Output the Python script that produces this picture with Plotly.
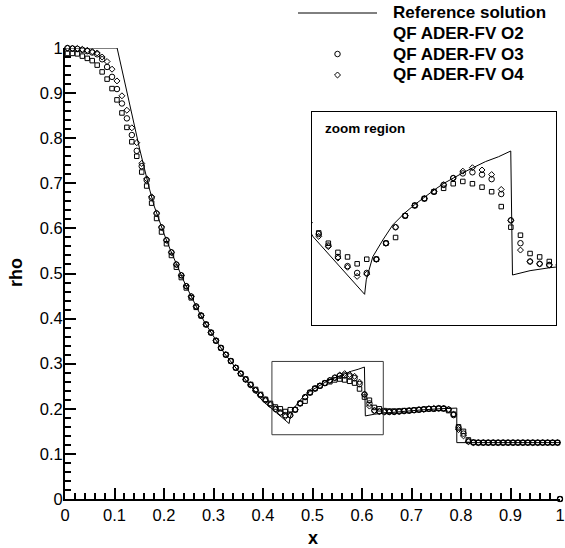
import plotly.graph_objects as go

# ---------------------------------------------------------------------------
# Reference (exact) solution of the density profile
# ---------------------------------------------------------------------------
x_ref = [0.0, 0.1053, 0.151, 0.16, 0.17, 0.18, 0.19, 0.20, 0.213, 0.223,
         0.233, 0.243, 0.253, 0.262, 0.272, 0.282, 0.292, 0.302, 0.312, 0.322,
         0.332, 0.342, 0.352, 0.362, 0.380, 0.3993, 0.4528, 0.4545, 0.4613, 0.4717,
         0.4820, 0.4941, 0.5044, 0.5147, 0.5251, 0.5354, 0.5457, 0.5561, 0.5664, 0.5785,
         0.5922, 0.6049, 0.6067, 0.625, 0.6456, 0.68, 0.72, 0.76, 0.7915, 0.7915,
         1.0]
rho_ref = [1.0, 1.0, 0.775, 0.733, 0.690, 0.650, 0.617, 0.588, 0.552, 0.525,
           0.501, 0.476, 0.454, 0.432, 0.412, 0.392, 0.374, 0.356, 0.339, 0.323,
           0.309, 0.294, 0.281, 0.268, 0.244, 0.2175, 0.1673, 0.180, 0.2002, 0.2148,
           0.2279, 0.2381, 0.2454, 0.2521, 0.2585, 0.2644, 0.2693, 0.2740, 0.2783, 0.2833,
           0.2876, 0.2926, 0.1842, 0.1880, 0.1906, 0.1945, 0.1975, 0.2003, 0.2016, 0.125,
           0.125]

# ---------------------------------------------------------------------------
# Cell-centre values of the three QF ADER-FV schemes (100 cells + boundary node)
# ---------------------------------------------------------------------------
x_cells = [0.005, 0.015, 0.025, 0.035, 0.045, 0.055, 0.065, 0.075, 0.085, 0.095,
           0.105, 0.115, 0.125, 0.135, 0.145, 0.155, 0.165, 0.175, 0.185, 0.195,
           0.205, 0.215, 0.225, 0.235, 0.245, 0.255, 0.265, 0.275, 0.285, 0.295,
           0.305, 0.315, 0.325, 0.335, 0.345, 0.355, 0.365, 0.375, 0.385, 0.395,
           0.405, 0.415, 0.425, 0.435, 0.445, 0.455, 0.465, 0.475, 0.485, 0.495,
           0.505, 0.515, 0.525, 0.535, 0.545, 0.555, 0.565, 0.575, 0.585, 0.595,
           0.605, 0.615, 0.625, 0.635, 0.645, 0.655, 0.665, 0.675, 0.685, 0.695,
           0.705, 0.715, 0.725, 0.735, 0.745, 0.755, 0.765, 0.775, 0.785, 0.795,
           0.805, 0.815, 0.825, 0.835, 0.845, 0.855, 0.865, 0.875, 0.885, 0.895,
           0.905, 0.915, 0.925, 0.935, 0.945, 0.955, 0.965, 0.975, 0.985, 0.995,
           1.0]

rho_o2 = [0.988, 0.988, 0.987, 0.982, 0.977, 0.972, 0.962, 0.947, 0.931, 0.910,
          0.885, 0.856, 0.824, 0.792, 0.760, 0.725, 0.694, 0.656, 0.622, 0.592,
          0.566, 0.540, 0.514, 0.491, 0.468, 0.446, 0.425, 0.406, 0.387, 0.369,
          0.351, 0.335, 0.320, 0.306, 0.291, 0.278, 0.266, 0.254, 0.243, 0.232,
          0.221, 0.212, 0.204, 0.200, 0.194, 0.198, 0.198, 0.212, 0.217, 0.236,
          0.245, 0.251, 0.257, 0.260, 0.264, 0.266, 0.264, 0.261, 0.257, 0.244,
          0.226, 0.219, 0.203, 0.200, 0.196, 0.195, 0.195, 0.195, 0.196, 0.196,
          0.197, 0.198, 0.199, 0.200, 0.200, 0.201, 0.200, 0.196, 0.188, 0.160,
          0.150, 0.131, 0.126, 0.125, 0.125, 0.125, 0.125, 0.125, 0.125, 0.125,
          0.125, 0.125, 0.125, 0.125, 0.125, 0.125, 0.125, 0.125, 0.125, 0.125,
          0.0]

rho_o3 = [1.000, 0.999, 0.998, 0.996, 0.993, 0.990, 0.986, 0.975, 0.958, 0.936,
          0.909, 0.877, 0.844, 0.807, 0.772, 0.738, 0.707, 0.668, 0.633, 0.602,
          0.574, 0.547, 0.520, 0.496, 0.472, 0.449, 0.427, 0.407, 0.387, 0.369,
          0.351, 0.335, 0.320, 0.306, 0.291, 0.278, 0.265, 0.253, 0.241, 0.230,
          0.220, 0.210, 0.200, 0.192, 0.186, 0.186, 0.198, 0.212, 0.226, 0.236,
          0.245, 0.251, 0.257, 0.263, 0.269, 0.273, 0.274, 0.272, 0.268, 0.255,
          0.232, 0.212, 0.196, 0.194, 0.193, 0.193, 0.193, 0.194, 0.195, 0.196,
          0.197, 0.198, 0.199, 0.200, 0.200, 0.201, 0.201, 0.198, 0.186, 0.158,
          0.145, 0.128, 0.125, 0.125, 0.125, 0.125, 0.125, 0.125, 0.125, 0.125,
          0.125, 0.125, 0.125, 0.125, 0.125, 0.125, 0.125, 0.125, 0.125, 0.125,
          0.0]

rho_o4 = [1.000, 0.999, 0.999, 0.997, 0.995, 0.992, 0.989, 0.980, 0.970, 0.953,
          0.927, 0.894, 0.862, 0.823, 0.790, 0.744, 0.710, 0.670, 0.634, 0.603,
          0.574, 0.547, 0.520, 0.496, 0.472, 0.449, 0.427, 0.407, 0.387, 0.369,
          0.351, 0.335, 0.320, 0.306, 0.291, 0.278, 0.265, 0.253, 0.241, 0.230,
          0.218, 0.209, 0.199, 0.191, 0.183, 0.185, 0.198, 0.212, 0.226, 0.236,
          0.245, 0.251, 0.257, 0.263, 0.269, 0.275, 0.278, 0.276, 0.272, 0.259,
          0.232, 0.206, 0.196, 0.194, 0.193, 0.193, 0.193, 0.194, 0.195, 0.196,
          0.197, 0.198, 0.199, 0.200, 0.201, 0.201, 0.201, 0.199, 0.188, 0.154,
          0.140, 0.127, 0.125, 0.125, 0.125, 0.125, 0.125, 0.125, 0.125, 0.125,
          0.125, 0.125, 0.125, 0.125, 0.125, 0.125, 0.125, 0.125, 0.125, 0.125,
          0.0]

series_names = ["Reference solution", "QF ADER-FV O2", "QF ADER-FV O3", "QF ADER-FV O4"]

# major tick positions and labels shared by both main axes
tick_vals = [0.0, 0.1, 0.2, 0.3, 0.4, 0.5, 0.6, 0.7, 0.8, 0.9, 1.0]
tick_text = ["0", "0.1", "0.2", "0.3", "0.4", "0.5", "0.6", "0.7", "0.8", "0.9", "1"]

# zoomed window (main axes box) and the inset's own ranges
zoom_box_x = [0.418, 0.643]
zoom_box_y = [0.1425, 0.305]
inset_x_range = [0.398, 0.652]
inset_y_range = [0.1405, 0.3267]

FONT = "Liberation Sans, Arial, Helvetica, sans-serif"
BLACK = "#000000"

marker_styles = {
    "o2": dict(symbol="square-open", size=4.5, color=BLACK, line=dict(width=1, color=BLACK)),
    "o3": dict(symbol="circle-open", size=5.5, color=BLACK, line=dict(width=1, color=BLACK)),
    "o4": dict(symbol="diamond-open", size=4.6, color=BLACK, line=dict(width=1, color=BLACK)),
}

fig = go.Figure()

for xa, ya, clip in (("x", "y", False), ("x2", "y2", True)):
    fig.add_trace(go.Scatter(x=x_ref, y=rho_ref, mode="lines", name=series_names[0],
                             line=dict(color=BLACK, width=1), xaxis=xa, yaxis=ya,
                             showlegend=False, cliponaxis=clip))
    for key, vals, nm in (("o2", rho_o2, series_names[1]),
                          ("o3", rho_o3, series_names[2]),
                          ("o4", rho_o4, series_names[3])):
        fig.add_trace(go.Scatter(x=x_cells, y=vals, mode="markers", name=nm,
                                 marker=marker_styles[key], xaxis=xa, yaxis=ya,
                                 showlegend=False, cliponaxis=clip))

# plot-area geometry in pixels (used to place legend / labels in paper units)
W, H = 565, 548
ML, MR, MT, MB = 65, 5, 48, 49
PW, PH = W - ML - MR, H - MT - MB


def px_to_paper(px, py):
    return (px - ML) / PW, (H - MB - py) / PH


# ---- legend drawn as glyphs + text -------------------------------------------
shapes = []
annotations = []
lx0, ly = px_to_paper(298, 13)
lx1, _ = px_to_paper(377, 13)
shapes.append(dict(type="line", xref="paper", yref="paper", x0=lx0, x1=lx1, y0=ly, y1=ly,
                   line=dict(color=BLACK, width=1)))
row_y = [13, 33.5, 54, 75]
text_x, _ = px_to_paper(391, 0)
for i, nm in enumerate(series_names):
    _, yy = px_to_paper(0, row_y[i])
    annotations.append(dict(text="<b>%s</b>" % nm, xref="paper", yref="paper", x=text_x, y=yy,
                            xanchor="left", yanchor="middle", showarrow=False,
                            font=dict(family=FONT, size=17, color=BLACK)))

mx, _ = px_to_paper(337.5, 0)
leg_y = [px_to_paper(0, r)[1] for r in row_y[1:]]
for key, yy in zip(("o2", "o3", "o4"), leg_y):
    fig.add_trace(go.Scatter(x=[mx], y=[yy], mode="markers", marker=marker_styles[key],
                             xaxis="x3", yaxis="y3", showlegend=False, cliponaxis=False))

# ---- zoom window outline in the main axes ------------------------------------
shapes.append(dict(type="rect", xref="x", yref="y", x0=zoom_box_x[0], x1=zoom_box_x[1],
                   y0=zoom_box_y[0], y1=zoom_box_y[1], line=dict(color="#3a3a3a", width=1)))

# ---- inset title ---------------------------------------------------------------
zx, zy = px_to_paper(323, 128)
annotations.append(dict(text="<b>zoom region</b>", xref="paper", yref="paper", x=zx, y=zy,
                        xanchor="left", yanchor="middle", showarrow=False,
                        font=dict(family=FONT, size=13.5, color=BLACK)))

# ---- axis titles ---------------------------------------------------------------
tx, ty = px_to_paper(313, 538)
annotations.append(dict(text="<b>x</b>", xref="paper", yref="paper", x=tx, y=ty,
                        xanchor="center", yanchor="middle", showarrow=False,
                        font=dict(family=FONT, size=18, color=BLACK)))
rx, ry = px_to_paper(16, 273)
annotations.append(dict(text="<b>rho</b>", xref="paper", yref="paper", x=rx, y=ry,
                        xanchor="center", yanchor="middle", showarrow=False, textangle=-90,
                        font=dict(family=FONT, size=18, color=BLACK)))

ix0, iy0 = px_to_paper(312, 325)
ix1, iy1 = px_to_paper(556, 112)

main_axis = dict(range=[0, 1], showline=True, linecolor=BLACK, linewidth=2, mirror=False,
                 ticks="inside", ticklen=11, tickwidth=2, tickcolor=BLACK,
                 tickmode="array", tickvals=tick_vals, ticktext=tick_text,
                 showgrid=False, zeroline=False, automargin=False,
                 ticklabeloverflow="allow",
                 tickfont=dict(family=FONT, size=16.5, color=BLACK),
                 minor=dict(ticks="inside", ticklen=6, tickwidth=1.5, tickcolor=BLACK,
                            tickmode="linear", dtick=0.02, tick0=0, showgrid=False))

plain_axis = dict(showgrid=False, zeroline=False, automargin=False)

fig.update_layout(
    width=W, height=H,
    margin=dict(l=ML, r=MR, t=MT, b=MB, pad=0, autoexpand=False),
    paper_bgcolor="white", plot_bgcolor="white",
    showlegend=False,
    xaxis=dict(main_axis, anchor="y", ticklabelstandoff=0),
    yaxis=dict(main_axis, anchor="x", ticklabelstandoff=-3),
    xaxis2=dict(plain_axis, domain=[ix0, ix1], range=inset_x_range, anchor="y2", showline=True,
                mirror=True, linecolor=BLACK, linewidth=1, ticks="", showticklabels=False),
    yaxis2=dict(plain_axis, domain=[iy0, iy1], range=inset_y_range, anchor="x2", showline=True,
                mirror=True, linecolor=BLACK, linewidth=1, ticks="", showticklabels=False),
    xaxis3=dict(plain_axis, domain=[0, 1], range=[0, 1], overlaying="x", anchor="y3",
                visible=False),
    yaxis3=dict(plain_axis, domain=[0, 1], range=[0, 1], overlaying="y", anchor="x3",
                visible=False),
    shapes=shapes,
    annotations=annotations,
)

fig.write_html("out.html")
